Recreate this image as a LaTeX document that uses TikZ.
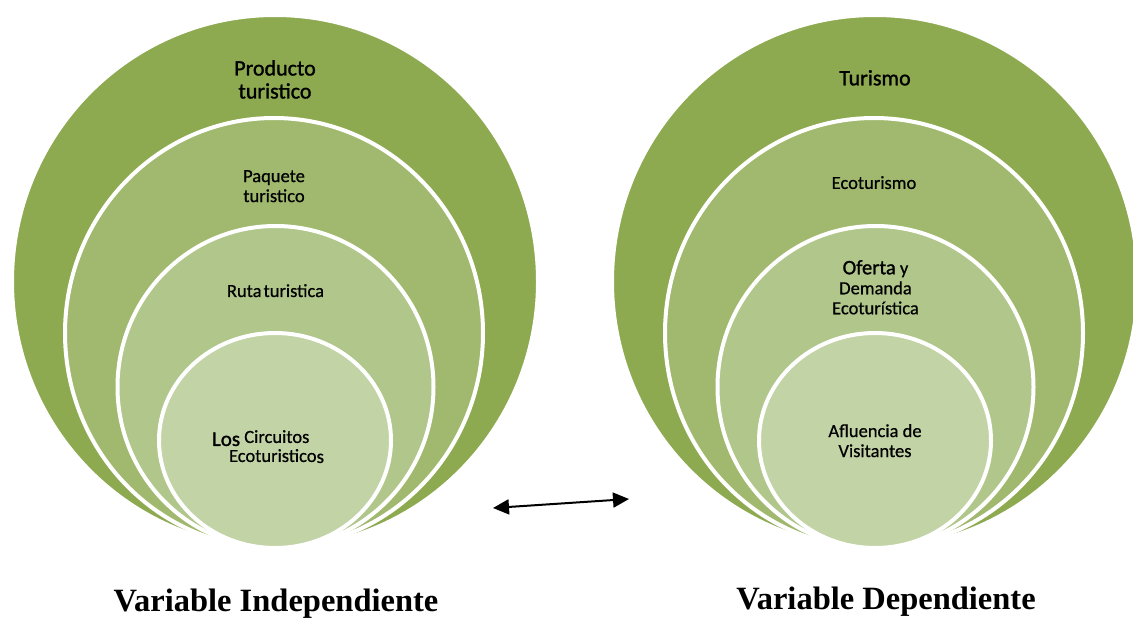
\documentclass[tikz,border=0pt]{standalone}
\usepackage{fontspec}
\setmainfont{Carlito}
\newfontfamily\lblfont[FakeBold=0.6]{Carlito}
\newfontfamily\toplblfont[FakeBold=1.3]{Carlito}
\newfontfamily\capfont{Liberation Serif}
\usetikzlibrary{shapes.geometric,arrows.meta,positioning}

\definecolor{ringA}{HTML}{8DAA50}
\definecolor{ringB}{HTML}{A0B96E}
\definecolor{ringC}{HTML}{B0C68A}
\definecolor{ringD}{HTML}{C2D3A6}

\begin{document}
\begin{tikzpicture}[x=1pt,y=-1pt]

	\tikzstyle{ring}=[ellipse,draw=white,line width=4pt,
		inner sep=0pt,outer sep=0pt]
	\tikzstyle{lbl}=[inner sep=0pt,align=center,text=black,
		font=\lblfont\fontsize{18.5}{20}\selectfont]
	\tikzstyle{biglbl}=[lbl,font=\toplblfont\fontsize{22}{23}\selectfont]
	\tikzstyle{caption}=[inner sep=0pt,anchor=base,text=black,
		font=\capfont\bfseries\fontsize{32.5}{33}\selectfont]

	\useasboundingbox (0,0) rectangle (1133,618);

	% variable independiente
	\node[ring,fill=ringA,minimum width=526pt,minimum height=533pt]	(prod)	at (275,281.5)	{};
	\node[ring,fill=ringB,minimum width=418pt,minimum height=430pt]	(paq)	at (274,333)	{};
	\node[ring,fill=ringC,minimum width=316pt,minimum height=322pt]	(ruta)	at (275.5,387)	{};
	\node[ring,fill=ringD,minimum width=232pt,minimum height=215pt]	(circ)	at (275,440.5)	{};

	\node[biglbl,below=45pt of prod.north]	(prodlbl)	{Producto\\turistico};
	\node[lbl,below=52pt of paq.north]	(paqlbl)	{Paquete\\turistico};
	\node[lbl,below=58pt of ruta.north]	(rutalbl)	{Ruta\hspace{2pt}turistica};
	\node[lbl,align=left,below=97pt of circ.north,xshift=-7pt]	(circlbl)
		{{\toplblfont\fontsize{21}{16}\selectfont Los} \raisebox{3pt}{Circuitos}\\[-4pt]
		\hspace{17pt}Ecoturistico\raisebox{-1pt}{\fontsize{19}{16}\selectfont s}};

	% variable dependiente
	\node[ring,fill=ringA,minimum width=526pt,minimum height=533pt]	(tur)	at (875,281.5)	{};
	\node[ring,fill=ringB,minimum width=418pt,minimum height=430pt]	(eco)	at (874,333)	{};
	\node[ring,fill=ringC,minimum width=316pt,minimum height=322pt]	(ofe)	at (875.5,387)	{};
	\node[ring,fill=ringD,minimum width=232pt,minimum height=215pt]	(afl)	at (875,440.5)	{};

	\node[biglbl,below=55pt of tur.north]	(turlbl)	{Turismo};
	\node[lbl,below=58pt of eco.north]	(ecolbl)	{Ecoturismo};
	\node[lbl,below=34pt of ofe.north]	(ofelbl)
		{{\toplblfont\fontsize{20.5}{20}\selectfont Oferta} y\\Demanda\\Ecoturística};
	\node[lbl,below=91pt of afl.north]	(afllbl)	{Afluencia de\\Visitantes};

	\node[caption]	(indep)	at (276,611)	{Variable Independiente};
	\node[caption]	(dep)	at (886,609)	{Variable Dependiente};

	\coordinate (arrL) at (493,508);
	\coordinate (arrR) at (629,499);
	\draw[{Triangle[length=16pt,width=15pt]}-{Triangle[length=16pt,width=15pt]},line width=2pt]
		(arrL) -- (arrR);

\end{tikzpicture}
\end{document}
